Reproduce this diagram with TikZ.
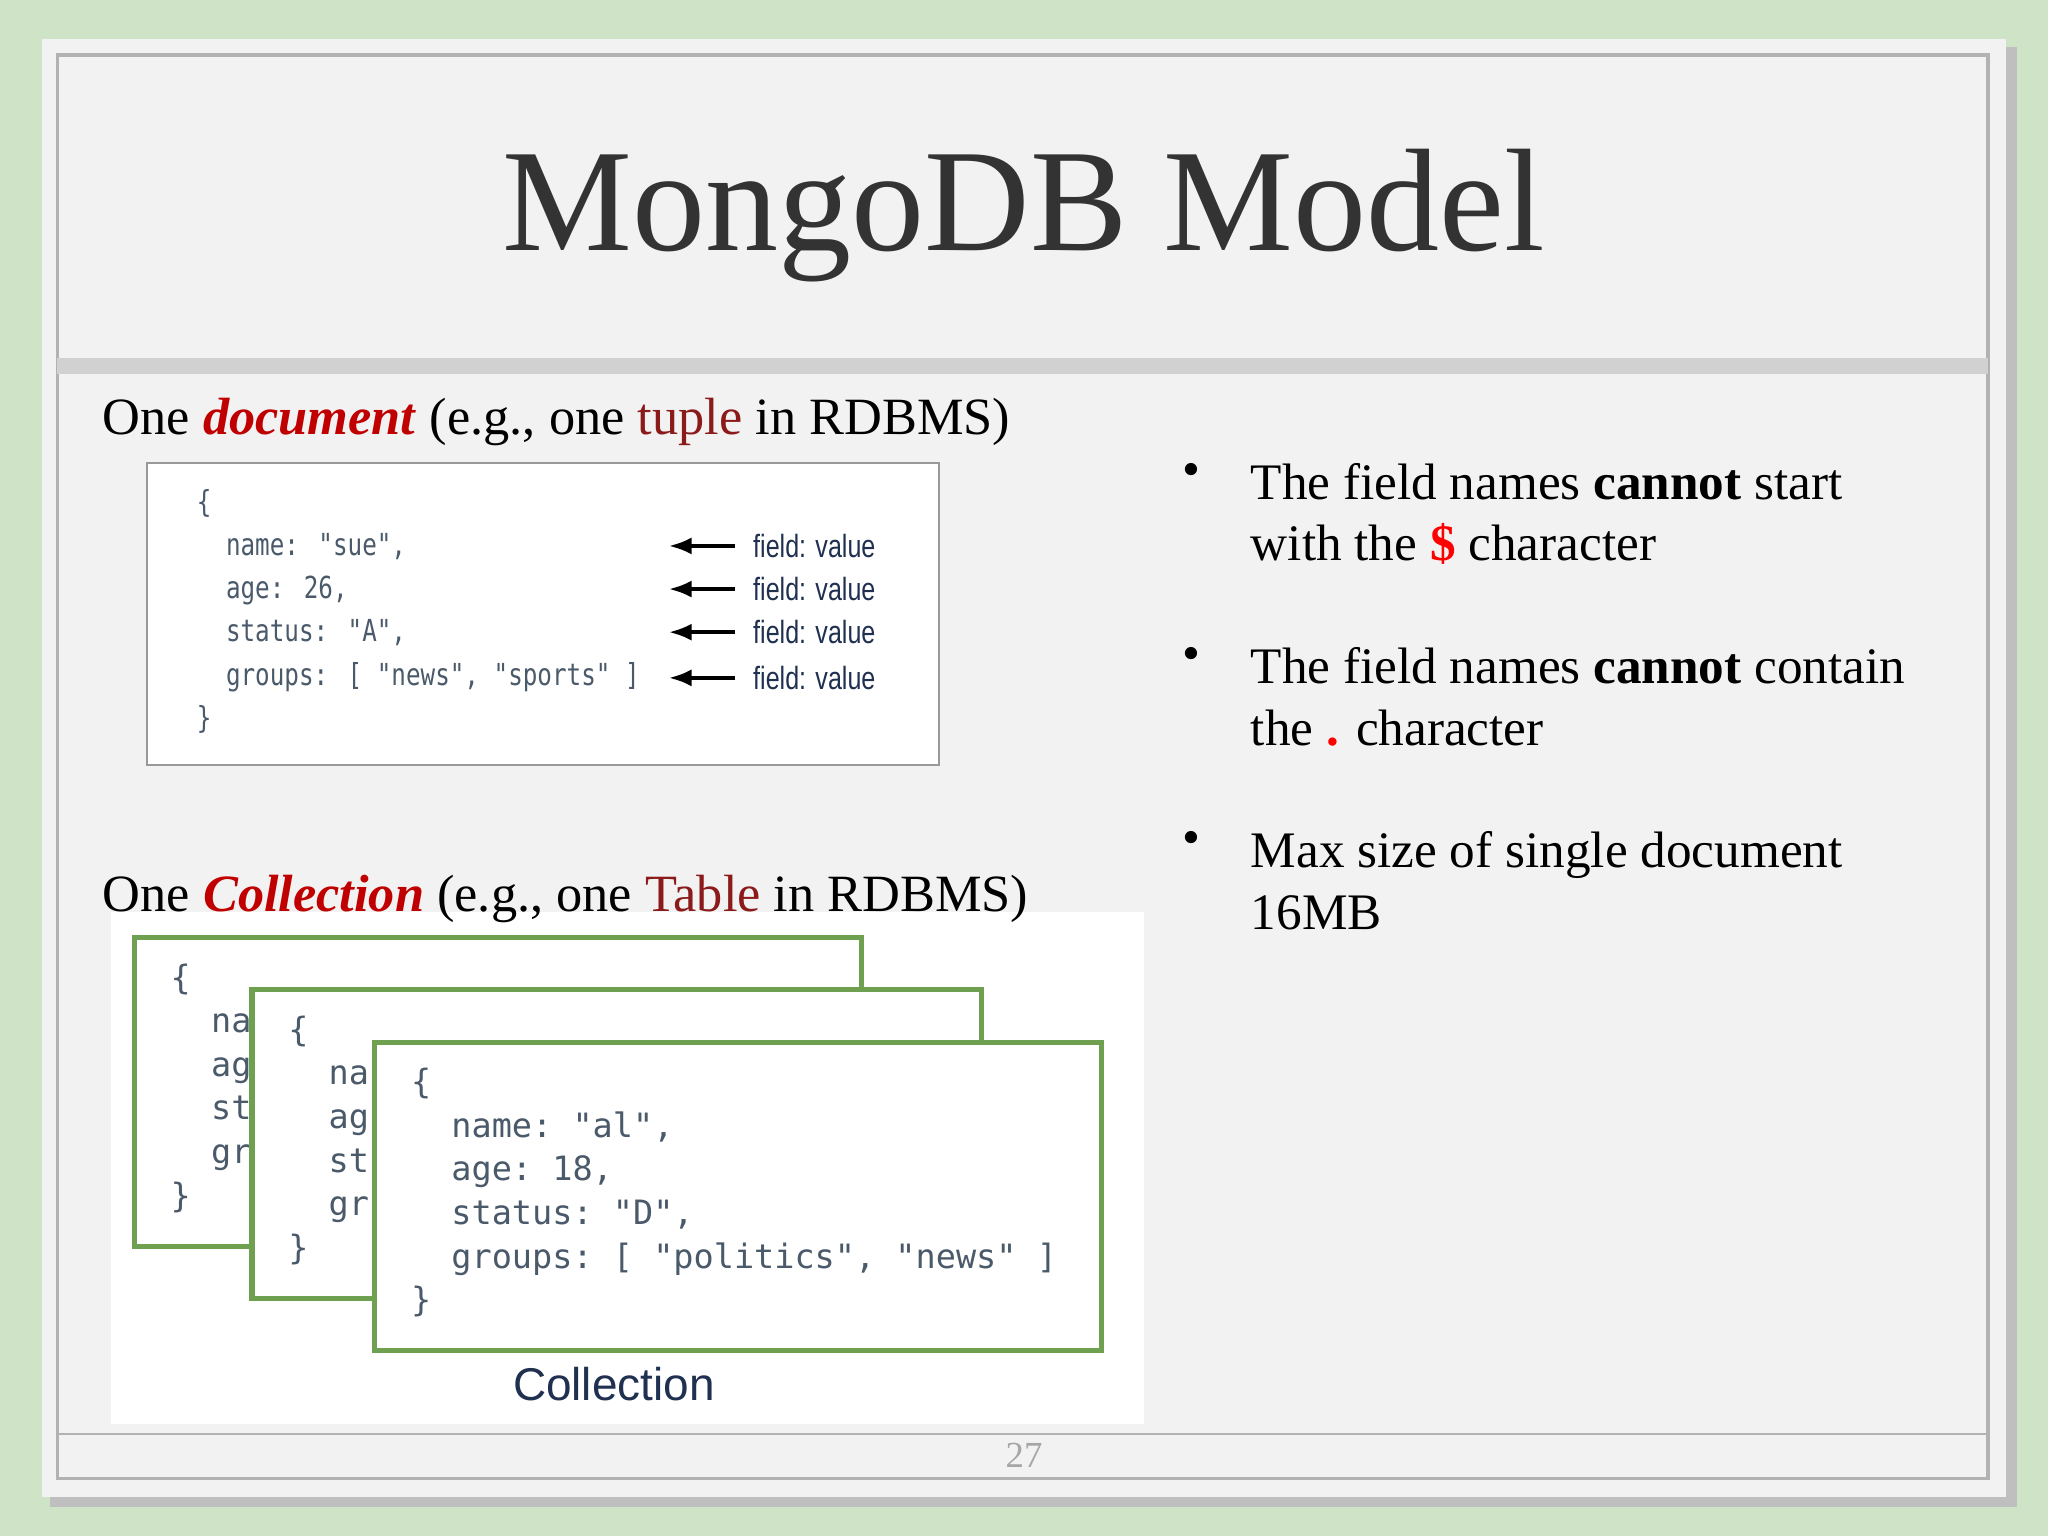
\documentclass[tikz,border=0pt]{standalone}
\usepackage{fontspec}
\setmainfont{Liberation Serif}
\setsansfont{Liberation Sans}
\setmonofont{DejaVu Sans Mono}
\newfontfamily\condsans[FakeStretch=0.78]{Liberation Sans}
\newfontfamily\condmono[FakeStretch=0.8]{DejaVu Sans Mono}
\usetikzlibrary{arrows.meta}
\definecolor{bg}{HTML}{CFE3C6}
\definecolor{slide}{HTML}{F2F2F2}
\definecolor{dred}{HTML}{C00000}
\definecolor{tup}{HTML}{8B1A1A}
\definecolor{code}{HTML}{4A5A6A}
\definecolor{fld}{HTML}{1F3050}
\definecolor{grn}{HTML}{6FA050}
\tikzset{
  body/.style={anchor=west,inner sep=0,font=\fontsize{11.4}{14}\selectfont},
  bul/.style={anchor=north west,inner sep=0,align=left,font=\fontsize{11.15}{13.4}\selectfont},
  cd/.style={anchor=north west,inner sep=0,align=left,text=code,font=\condmono\fontsize{6.6}{9.4}\selectfont},
  cd2/.style={anchor=north west,inner sep=0,align=left,text=code,font=\ttfamily\fontsize{7.3}{9.5}\selectfont},
  fv/.style={anchor=west,inner sep=0,text=fld,font=\condsans\fontsize{7}{8}\selectfont},
  gbox/.style={draw=grn,line width=1.1pt,fill=white},
}
\begin{document}
\begin{tikzpicture}[x=0.01cm,y=-0.01cm]
\useasboundingbox (0,0) rectangle (1568,1176);
\fill[bg] (0,0) rectangle (1568,1176);
\fill[black!25] (38,36) rectangle (1544,1154);
\fill[slide] (32,30) rectangle (1536,1146);
\draw[black!30,line width=0.8pt] (44,42) rectangle (1522,1132);
\fill[black!18] (44,274) rectangle (1522,286);
\draw[black!30] (44,1098) -- (1522,1098);
\node[text=black!35,font=\fontsize{8}{9}\selectfont] (pg) at (784,1114) {27};
\node[text=black!80,font=\fontsize{31.8}{33}\selectfont] (title) at (784,165) {MongoDB Model};
\node[body] (l1) at (78,323) {One \textcolor{dred}{\textbf{\textit{document}}} (e.g., one \textcolor{tup}{tuple} in RDBMS)};
\node[draw=black!40,fill=white,minimum width=6.06cm,minimum height=2.31cm,anchor=north west,inner sep=0] (doc) at (112,354) {};
\node[cd] (code) at (150,374) {\{\\\ \ name: "sue",\\\ \ age: 26,\\\ \ status: "A",\\\ \ groups: [ "news", "sports" ]\\\}};
\foreach \y [count=\i] in {418,451,484,519}{
  \node[fv] (f\i) at (576,\y) {field: value};
  \coordinate (s\i) at (563,\y);
  \draw[-{Latex[length=5pt]},line width=0.9pt] (s\i) -- ++(-51,0);
}
\fill[white] (85,698) rectangle (876,1090);
\node[body] (l2) at (78,688) {One \textcolor{dred}{\textbf{\textit{Collection}}} (e.g., one \textcolor{tup}{Table} in RDBMS)};
\node[gbox,minimum width=5.56cm,minimum height=2.36cm,anchor=north west,inner sep=0] (b1) at (101,716) {};
\node[cd2] at (130,737) {\{\\\ \ na\\\ \ ag\\\ \ st\\\ \ gr\\\}};
\node[gbox,minimum width=5.58cm,minimum height=2.36cm,anchor=north west,inner sep=0] (b2) at (191,756) {};
\node[cd2] at (220,777) {\{\\\ \ na\\\ \ ag\\\ \ st\\\ \ gr\\\}};
\node[gbox,minimum width=5.56cm,minimum height=2.36cm,anchor=north west,inner sep=0] (b3) at (285,796) {};
\node[cd2] at (314,817) {\{\\\ \ name: "al",\\\ \ age: 18,\\\ \ status: "D",\\\ \ groups: [ "politics", "news" ]\\\}};
\node[text=fld,font=\sffamily\fontsize{10}{12}\selectfont] (coll) at (470,1060) {Collection};
\node[bul] (d1) at (905,354) {•};
\node[bul] (t1) at (957,354) {The field names \textbf{cannot} start\\with the \textcolor{red}{\textbf{\$}} character};
\node[bul] (d2) at (905,495) {•};
\node[bul] (t2) at (957,495) {The field names \textbf{cannot} contain\\the \textcolor{red}{\textbf{.}} character};
\node[bul] (d3) at (905,636) {•};
\node[bul] (t3) at (957,636) {Max size of single document\\16MB};
\end{tikzpicture}
\end{document}
